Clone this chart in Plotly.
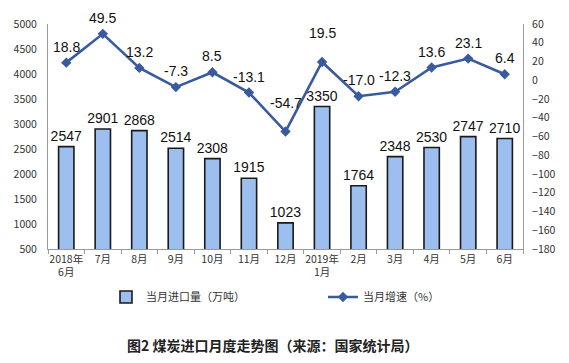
import plotly.graph_objects as go

categories = ["2018年<br>6月", "7月", "8月", "9月", "10月", "11月", "12月",
              "2019年<br>1月", "2月", "3月", "4月", "5月", "6月"]
imports = [2547, 2901, 2868, 2514, 2308, 1915, 1023, 3350, 1764, 2348, 2530, 2747, 2710]
growth = [18.8, 49.5, 13.2, -7.3, 8.5, -13.1, -54.7, 19.5, -17.0, -12.3, 13.6, 23.1, 6.4]
left_ticks = list(range(500, 5001, 500))
right_ticks = list(range(-180, 61, 20))

TXT = "Liberation Sans, Arial, sans-serif"
CJK = "Noto Sans CJK SC, sans-serif"
LINE = "#3A5AA0"
TICKF = dict(family=CJK, size=10.5, color="#333")

# page body has an 8px margin; plot area spans 475 x 225 px
PW, PH = 475, 225
L, T = 40, 16
W, H = 553, 347

fig = go.Figure()
fig.add_trace(go.Bar(
    x=categories, y=imports, name="当月进口量（万吨）",
    marker=dict(color="#9DBFF0", line=dict(color="#1a1a1a", width=1.6)),
    width=0.42,
    text=[str(v) for v in imports], textposition="outside", constraintext="none",
    textfont=dict(family=TXT, size=14, color="#111"),
    cliponaxis=False, yaxis="y",
))
fig.add_trace(go.Scatter(
    x=categories, y=growth, name="当月增速（%）", yaxis="y2",
    mode="lines+markers",
    line=dict(color=LINE, width=2.6),
    marker=dict(symbol="diamond", size=8, color=LINE),
    cliponaxis=False,
))
n = len(growth)
for i, (c, g) in enumerate(zip(categories, growth)):
    prev_d = abs(g - growth[i - 1]) if i > 0 else 0
    next_d = abs(g - growth[i + 1]) if i < n - 1 else 0
    shift = 29 if (prev_d > 35 and next_d > 35) else 16
    fig.add_annotation(x=c, y=g, yref="y2", text=f"{g:.1f}", showarrow=False,
                       yshift=shift, font=dict(family=TXT, size=14, color="#111"))

fig.add_annotation(xref="paper", yref="paper", x=(272 - 48) / PW, y=-(345 - 249) / PH,
                   xanchor="center", yanchor="middle", showarrow=False,
                   text="<b>图2 煤炭进口月度走势图（来源：国家统计局）</b>",
                   font=dict(family=CJK, size=14, color="#222"))

fig.update_layout(
    width=W, height=H,
    margin=dict(l=L, r=W - L - PW, t=T, b=H - T - PH),
    paper_bgcolor="white", plot_bgcolor="white",
    showlegend=True,
    legend=dict(orientation="h", x=(106 - 48) / PW, y=-(297 - 249) / PH,
                xanchor="left", yanchor="middle",
                font=dict(family=CJK, size=11, color="#333"),
                entrywidth=172, itemwidth=30, bgcolor="rgba(0,0,0,0)"),
    xaxis=dict(showline=True, linecolor="#999", linewidth=1,
               ticks="outside", tickson="boundaries", ticklen=4, tickcolor="#999",
               tickfont=TICKF, tickangle=0, automargin=False,
               showgrid=False, range=[-0.5, 12.5]),
    yaxis=dict(range=[500, 5000], tickvals=left_ticks, showgrid=False,
               showline=True, linecolor="#999", linewidth=1, zeroline=False,
               tickfont=TICKF, ticklabelstandoff=8, automargin=False),
    yaxis2=dict(range=[-180, 60], tickvals=right_ticks, overlaying="y", side="right",
                showgrid=False, showline=True, linecolor="#999", linewidth=1,
                zeroline=False, tickfont=TICKF, automargin=False,
                ticklabelstandoff=6),
)

fig.write_html("out.html")
